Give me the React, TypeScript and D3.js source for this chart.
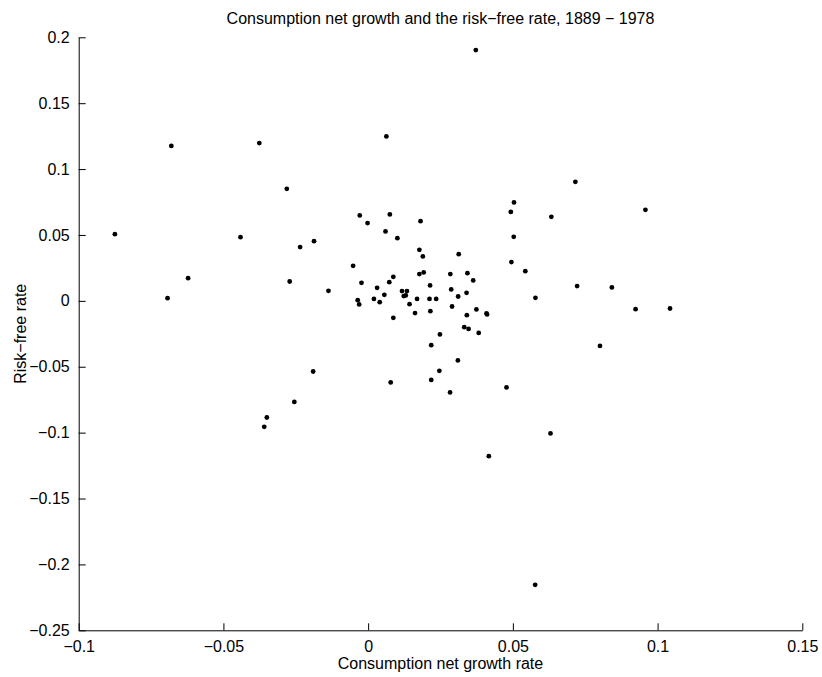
import React, { useEffect, useRef } from "react";
import * as d3 from "d3";

// consumption net growth rate (x) and risk-free rate (y)
const growth = [
  -0.0875, -0.068, -0.0693, -0.0622, -0.0376, -0.0441, -0.0281, -0.0235, -0.0187, -0.0271,
  -0.0137, -0.035, -0.0359, -0.0255, -0.019,
  0.0063, -0.0029, -0.0002, 0.006, 0.0075, 0.0101, 0.0181, -0.0052, -0.0023, -0.0036,
  -0.0031, 0.002, 0.0031, 0.004, 0.0056, 0.0073, 0.0087, 0.0087, 0.0117, 0.0134,
  0.0123, 0.013, 0.0143, 0.0162, 0.0169, 0.0177, 0.0189, 0.0177, 0.0192, 0.0214,
  0.0212, 0.0215, 0.0235, 0.0248, 0.0218, 0.0284, 0.0287, 0.029, 0.0311, 0.0313,
  0.0372, 0.0716, 0.0504, 0.0493, 0.0633, 0.0958, 0.0503, 0.0495, 0.0543, 0.0343,
  0.0363, 0.034, 0.0341, 0.0374, 0.0409, 0.0411, 0.0332, 0.0347, 0.0382, 0.0722,
  0.0842, 0.0924, 0.1043, 0.0801, 0.0578,
  0.031, 0.0246, 0.0218, 0.0283, 0.0078, 0.0478, 0.063, 0.0417, 0.0577,
];
const riskFree = [
  0.0506, 0.1176, 0.002, 0.0172, 0.1197, 0.0483, 0.085, 0.0408, 0.0453, 0.0147,
  0.0076, -0.0885, -0.0956, -0.0767, -0.0536,
  0.1248, 0.0648, 0.059, 0.0527, 0.0656, 0.0476, 0.0605, 0.0266, 0.0137, 0.0005,
  -0.0027, 0.0015, 0.0099, -0.001, 0.0046, 0.0142, 0.0182, -0.0129, 0.0074, 0.0074,
  0.0036, 0.0041, -0.0025, -0.0093, 0.0015, 0.0387, 0.0337, 0.0203, 0.0216, 0.0117,
  0.0015, -0.0078, 0.0015, -0.0255, -0.0336, 0.0203, 0.0087, -0.0043, 0.0033, 0.0354,
  0.1903, 0.0903, 0.0747, 0.0675, 0.0638, 0.0691, 0.0486, 0.0294, 0.0225, 0.021,
  0.0155, 0.0061, -0.0109, -0.0065, -0.0096, -0.0103, -0.02, -0.0213, -0.0243, 0.0112,
  0.0102, -0.0063, -0.0058, -0.0342, 0.0023,
  -0.0452, -0.0531, -0.06, -0.0695, -0.0619, -0.0657, -0.1006, -0.1179, -0.2155,
];
const xTicks = [-0.1, -0.05, 0, 0.05, 0.1, 0.15];
const yTicks = [-0.25, -0.2, -0.15, -0.1, -0.05, 0, 0.05, 0.1, 0.15, 0.2];

const fmt = (v: number) => (Math.abs(v) < 1e-9 ? "0" : String(v).replace("-", "\u2212"));

export default function App() {
  const ref = useRef<SVGSVGElement>(null);

  useEffect(() => {
    const W = 822;
    const H = 677;
    const left = 78.7;
    const right = 802.3;
    const top = 37.3;
    const bottom = 630.3;
    const font = "'Liberation Sans', Arial, Helvetica, sans-serif";
    const fs = 16;

    const svg = d3.select(ref.current);
    svg.selectAll("*").remove();
    svg.attr("width", W).attr("height", H);
    svg.append("rect").attr("width", W).attr("height", H).attr("fill", "#fff");

    const x = d3.scaleLinear().domain([-0.1, 0.15]).range([left, right]);
    const y = d3.scaleLinear().domain([-0.25, 0.2]).range([bottom, top]);

    // x axis (ticks point inward)
    const gx = svg
      .append("g")
      .attr("transform", `translate(0,${bottom})`)
      .call(d3.axisBottom(x).tickValues(xTicks).tickSize(-7).tickSizeOuter(0).tickPadding(9).tickFormat((d) => fmt(+d)));
    gx.select(".domain").attr("stroke", "#000");
    gx.selectAll("line").attr("stroke", "#000");
    gx.selectAll("text").attr("font-family", font).attr("font-size", fs).attr("fill", "#000").attr("dy", "0.78em");

    // y axis
    const gy = svg
      .append("g")
      .attr("transform", `translate(${left},0)`)
      .call(d3.axisLeft(y).tickValues(yTicks).tickSize(-7).tickSizeOuter(0).tickPadding(9).tickFormat((d) => fmt(+d)));
    gy.select(".domain").attr("stroke", "#000");
    gy.selectAll("line").attr("stroke", "#000");
    gy.selectAll("text").attr("font-family", font).attr("font-size", fs).attr("fill", "#000");

    // points
    svg
      .append("g")
      .selectAll("circle")
      .data(growth.map((g, i) => [g, riskFree[i]]))
      .join("circle")
      .attr("cx", (d) => x(d[0]))
      .attr("cy", (d) => y(d[1]))
      .attr("r", 2.4)
      .attr("fill", "#000");

    // title
    svg
      .append("text")
      .attr("x", (left + right) / 2)
      .attr("y", 24)
      .attr("text-anchor", "middle")
      .attr("font-family", font)
      .attr("font-size", fs)
      .text("Consumption net growth and the risk\u2212free rate, 1889 \u2212 1978");

    // axis labels
    svg
      .append("text")
      .attr("x", (left + right) / 2)
      .attr("y", 669)
      .attr("text-anchor", "middle")
      .attr("font-family", font)
      .attr("font-size", fs)
      .text("Consumption net growth rate");

    svg
      .append("text")
      .attr("transform", `translate(26,${(top + bottom) / 2}) rotate(-90)`)
      .attr("text-anchor", "middle")
      .attr("font-family", font)
      .attr("font-size", fs)
      .text("Risk\u2212free rate");
  }, []);

  return <svg ref={ref} style={{ position: "absolute", left: 0, top: 0, display: "block" }} />;
}
